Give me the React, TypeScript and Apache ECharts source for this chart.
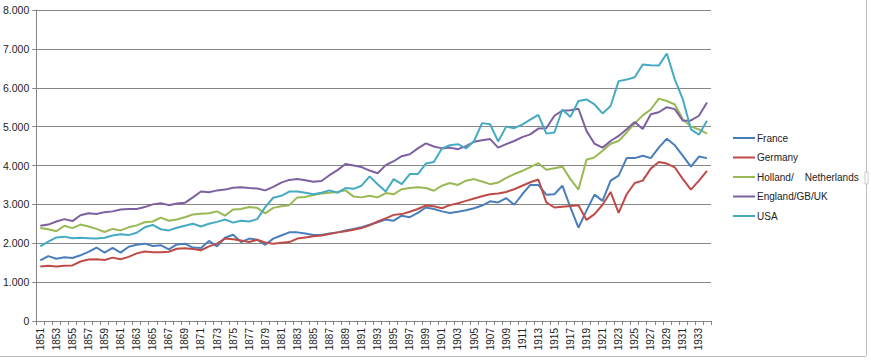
import React, { useEffect, useRef } from "react";
import * as echarts from "echarts";

const years = [
  "1851","1852","1853","1854","1855","1856","1857","1858","1859","1860",
  "1861","1862","1863","1864","1865","1866","1867","1868","1869","1870",
  "1871","1872","1873","1874","1875","1876","1877","1878","1879","1880",
  "1881","1882","1883","1884","1885","1886","1887","1888","1889","1890",
  "1891","1892","1893","1894","1895","1896","1897","1898","1899","1900",
  "1901","1902","1903","1904","1905","1906","1907","1908","1909","1910",
  "1911","1912","1913","1914","1915","1916","1917","1918","1919","1920",
  "1921","1922","1923","1924","1925","1926","1927","1928","1929","1930",
  "1931","1932","1933","1934",
];

const france = [
  1560, 1670, 1600, 1640, 1620, 1690, 1780, 1890, 1760, 1880,
  1760, 1910, 1960, 1990, 1930, 1950, 1840, 1970, 1990, 1890,
  1880, 2060, 1920, 2140, 2220, 2030, 2120, 2090, 1960, 2120,
  2200, 2280, 2280, 2250, 2210, 2210, 2250, 2280, 2330, 2370,
  2410, 2480, 2540, 2610, 2580, 2710, 2670, 2780, 2920, 2880,
  2820, 2780, 2810, 2850, 2900, 2970, 3080, 3050, 3160, 2990,
  3260, 3500, 3500, 3250, 3260, 3480, 2920, 2400, 2840, 3250,
  3090, 3610, 3740, 4190, 4190, 4250, 4190, 4460, 4690, 4520,
  4250, 3970, 4230, 4190,
];

const germany = [
  1400, 1420, 1400, 1420, 1430, 1530, 1580, 1590, 1570, 1630,
  1590, 1650, 1740, 1790, 1770, 1770, 1780, 1860, 1870, 1850,
  1820, 1920, 1990, 2120, 2100, 2070, 2030, 2090, 2020, 1990,
  2010, 2030, 2120, 2150, 2180, 2200, 2240, 2280, 2310, 2350,
  2390, 2460, 2560, 2640, 2730, 2750, 2810, 2880, 2970, 2950,
  2900, 2980, 3030, 3090, 3150, 3210, 3260, 3280, 3320, 3390,
  3480, 3570, 3640, 3050, 2920, 2940, 2960, 2980, 2600, 2750,
  2990, 3320, 2780, 3260, 3550, 3610, 3920, 4090, 4050, 3950,
  3650, 3380, 3610, 3860,
];

const holland = [
  2390, 2360, 2310, 2450, 2390, 2480, 2430, 2370, 2290, 2370,
  2330, 2410, 2460, 2540, 2560, 2660, 2580, 2610, 2670, 2740,
  2760, 2770, 2820, 2710, 2870, 2880, 2930, 2910, 2770, 2910,
  2950, 2980, 3180, 3190, 3240, 3280, 3300, 3320, 3360, 3200,
  3180, 3220, 3180, 3290, 3260, 3390, 3420, 3440, 3420, 3350,
  3480, 3550, 3500, 3610, 3650, 3590, 3520, 3560, 3680, 3780,
  3860, 3960, 4060, 3890, 3930, 3970, 3650, 3380, 4150, 4210,
  4380, 4560, 4630, 4850, 5080, 5290, 5440, 5720, 5660, 5570,
  5190, 5000, 4930, 4820,
];

const england = [
  2450, 2480, 2560, 2620, 2570, 2720, 2770, 2750, 2800, 2820,
  2870, 2880, 2880, 2930, 3000, 3030, 2980, 3020, 3040, 3180,
  3330, 3310, 3360, 3380, 3430, 3440, 3420, 3410, 3360, 3450,
  3560, 3630, 3650, 3620, 3580, 3600, 3750, 3880, 4040, 4000,
  3960, 3870, 3800, 4010, 4110, 4240, 4290, 4440, 4570, 4490,
  4440, 4460, 4420, 4500, 4610, 4650, 4680, 4460, 4550, 4630,
  4730, 4800, 4950, 4960, 5280, 5410, 5420, 5460, 4890, 4560,
  4460, 4630, 4760, 4930, 5120, 4940, 5320, 5370, 5500, 5450,
  5150, 5160, 5280, 5620,
];

const usa = [
  1920, 2040, 2150, 2170, 2130, 2140, 2130, 2120, 2140, 2200,
  2230, 2210, 2270, 2410, 2470, 2360, 2330, 2400, 2450, 2500,
  2430, 2500, 2550, 2610, 2530, 2580, 2560, 2620, 2930, 3170,
  3220, 3330, 3330, 3300, 3260, 3300, 3360, 3300, 3420, 3400,
  3480, 3720, 3520, 3330, 3650, 3520, 3780, 3780, 4050, 4090,
  4440, 4520, 4550, 4440, 4630, 5090, 5060, 4620, 5000, 4960,
  5050, 5180, 5300, 4820, 4850, 5440, 5250, 5660, 5700, 5570,
  5340, 5530, 6170, 6210, 6270, 6600, 6580, 6570, 6880, 6210,
  5700, 4930, 4790, 5150,
];

const seriesNames = ["France", "Germany", "Holland/    Netherlands", "England/GB/UK", "USA"];
const seriesColors = ["#4A7EBB", "#BE4B48", "#98B954", "#7D60A0", "#46AAC5"];

export default function App() {
  const ref = useRef<HTMLDivElement>(null);

  useEffect(() => {
    if (!ref.current) return;
    const chart = echarts.init(ref.current, undefined, { renderer: "svg" });
    const dataSets = [france, germany, holland, england, usa];
    const font = "'Liberation Sans', Arial, sans-serif";
    chart.setOption({
      animation: false,
      backgroundColor: "#ffffff",
      textStyle: { fontFamily: font },
      grid: { left: 35, top: 10, right: 160, bottom: 39 },
      legend: {
        orient: "vertical",
        left: 727,
        top: 128,
        itemWidth: 22,
        itemHeight: 12,
        itemGap: 9.5,
        itemStyle: { opacity: 0 },
        lineStyle: { width: 2 },
        textStyle: { fontFamily: font, fontSize: 10, color: "#222", padding: [0, 0, 0, -3] },
        data: seriesNames,
      },
      xAxis: {
        type: "category",
        data: years,
        boundaryGap: true,
        axisLine: { lineStyle: { color: "#868686", width: 1 } },
        axisTick: { show: true, interval: 0, length: 4, lineStyle: { color: "#868686" } },
        axisLabel: {
          interval: 1,
          rotate: 90,
          margin: 7,
          fontSize: 10,
          color: "#222",
          fontFamily: font,
        },
        splitLine: { show: false },
      },
      yAxis: {
        type: "value",
        min: 0,
        max: 8000,
        interval: 1000,
        axisLine: { show: true, lineStyle: { color: "#868686", width: 1 } },
        axisTick: { show: true, length: 4, lineStyle: { color: "#868686" } },
        axisLabel: {
          margin: 7,
          fontSize: 10.5,
          color: "#222",
          fontFamily: font,
          formatter: (v: number) => (v === 0 ? "0" : `${v / 1000}.000`),
        },
        splitLine: { show: true, lineStyle: { color: "#868686", width: 1 } },
      },
      series: seriesNames.map((name, i) => ({
        name,
        type: "line",
        data: dataSets[i],
        symbol: "none",
        lineStyle: { color: seriesColors[i], width: 2 },
        itemStyle: { color: seriesColors[i] },
      })),
      graphic: [
        { type: "line", shape: { x1: 866.5, y1: 0, x2: 866.5, y2: 356 }, style: { stroke: "#bdbdbd", lineWidth: 1 } },
        { type: "line", shape: { x1: 0, y1: 356.5, x2: 866, y2: 356.5 }, style: { stroke: "#bdbdbd", lineWidth: 1 } },
        { type: "rect", shape: { x: 865, y: 172, width: 3, height: 12 }, style: { fill: "#ffffff", stroke: "#9a9a9a", lineWidth: 0.5 } },
      ],
    });
    return () => chart.dispose();
  }, []);

  return (
    <div
      ref={ref}
      style={{ position: "fixed", left: 0, top: 0, width: 871, height: 360, background: "#fff" }}
    />
  );
}
